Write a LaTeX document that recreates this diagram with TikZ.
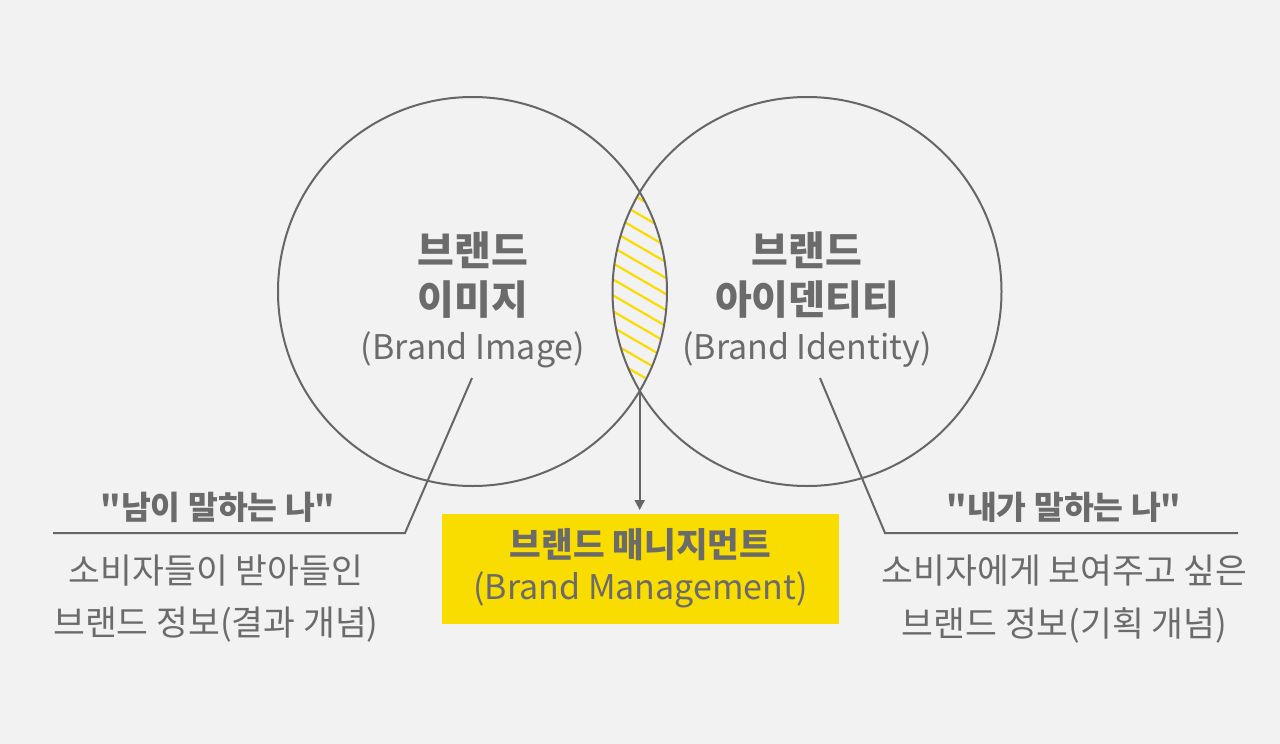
\documentclass[tikz,border=0pt]{standalone}
\usepackage{fontspec}
\newfontfamily\kr{Noto Sans CJK KR}
\usetikzlibrary{arrows.meta}
\definecolor{bg}{HTML}{F2F2F2}
\definecolor{ln}{HTML}{666666}
\definecolor{tx}{HTML}{6B6B6B}
\definecolor{yl}{HTML}{F9DC00}
\tikzset{
  px/.style={x=0.5pt,y=-0.5pt},
  circ/.style={draw=ln,line width=1pt},
  ptr/.style={draw=ln,line width=1pt},
  title/.style={text=tx,font=\kr\fontsize{20}{22}\selectfont\bfseries,inner sep=0pt},
  sub/.style={text=tx,font=\kr\fontsize{17}{20}\selectfont,inner sep=0pt},
  qt/.style={text=tx,font=\kr\fontsize{16.2}{18}\selectfont\bfseries,inner sep=0pt},
  body/.style={text=tx,font=\kr\fontsize{17.3}{19}\selectfont,inner sep=0pt},
  boxt/.style={text=tx,font=\kr\fontsize{17.2}{19}\selectfont\bfseries,inner sep=0pt},
  boxs/.style={text=tx,font=\kr\fontsize{17}{19}\selectfont,inner sep=0pt},
  hatch/.style={draw=yl,line width=1.1pt}
}
\begin{document}
\begin{tikzpicture}[px]
\fill[bg] (0,0) rectangle (1280,744);
\useasboundingbox (0,0) rectangle (1280,744);
% hatching in lens
\begin{scope}
  \clip (472.5,291.5) circle[radius=194.5];
  \clip (807,291.5) circle[radius=194.5];
  \foreach \k in {-10,...,14}{
    \draw[hatch] (590,{170+16*\k}) -- (690,{170+16*\k+58});
  }
\end{scope}
% circles
\node[circ,circle,minimum size=389*0.5pt,inner sep=0pt] (cl) at (472.5,291.5) {};
\node[circ,circle,minimum size=389*0.5pt,inner sep=0pt] (cr) at (807,291.5) {};
\coordinate (lensb) at (639.7,393.2);
% circle texts
\node[title] (l1) at (473,250) {브랜드};
\node[title] (l2) at (473,300) {이미지};
\node[sub] (l3) at (473,350) {(Brand Image)};
\node[title] (r1) at (807,250) {브랜드};
\node[title] (r2) at (807,300) {아이덴티티};
\node[sub] (r3) at (807,350) {(Brand Identity)};
% box
\node[fill=yl,minimum width=397*0.5pt,minimum height=110*0.5pt,inner sep=0pt] (box) at (640.5,569) {};
\node[boxt] (b1) at (640.5,545) {브랜드 매니지먼트};
\node[boxs] (b2) at (640.5,590) {(Brand Management)};
\coordinate (atip) at (639.7,510);
\draw[ln,line width=1pt,-{Triangle[length=5pt,width=5pt]}] (lensb) -- (atip);
% pointers
\coordinate (ls) at (472,378);
\coordinate (lk) at (405,533);
\coordinate (le) at (53,533);
\coordinate (rs) at (820,378);
\coordinate (rk) at (885,533);
\coordinate (re) at (1238,533);
\draw[ptr] (ls) -- (lk) -- (le);
\draw[ptr] (rs) -- (rk) -- (re);
% side texts
\node[qt] (lq) at (218,507) {"남이 말하는 나"};
\node[body] (lb1) at (216,571) {소비자들이 받아들인};
\node[body] (lb2) at (216,625) {브랜드 정보(결과 개념)};
\node[qt] (rq) at (1064,507) {"내가 말하는 나"};
\node[body] (rb1) at (1064.5,571) {소비자에게 보여주고 싶은};
\node[body] (rb2) at (1064.5,625) {브랜드 정보(기획 개념)};
\end{tikzpicture}
\end{document}
